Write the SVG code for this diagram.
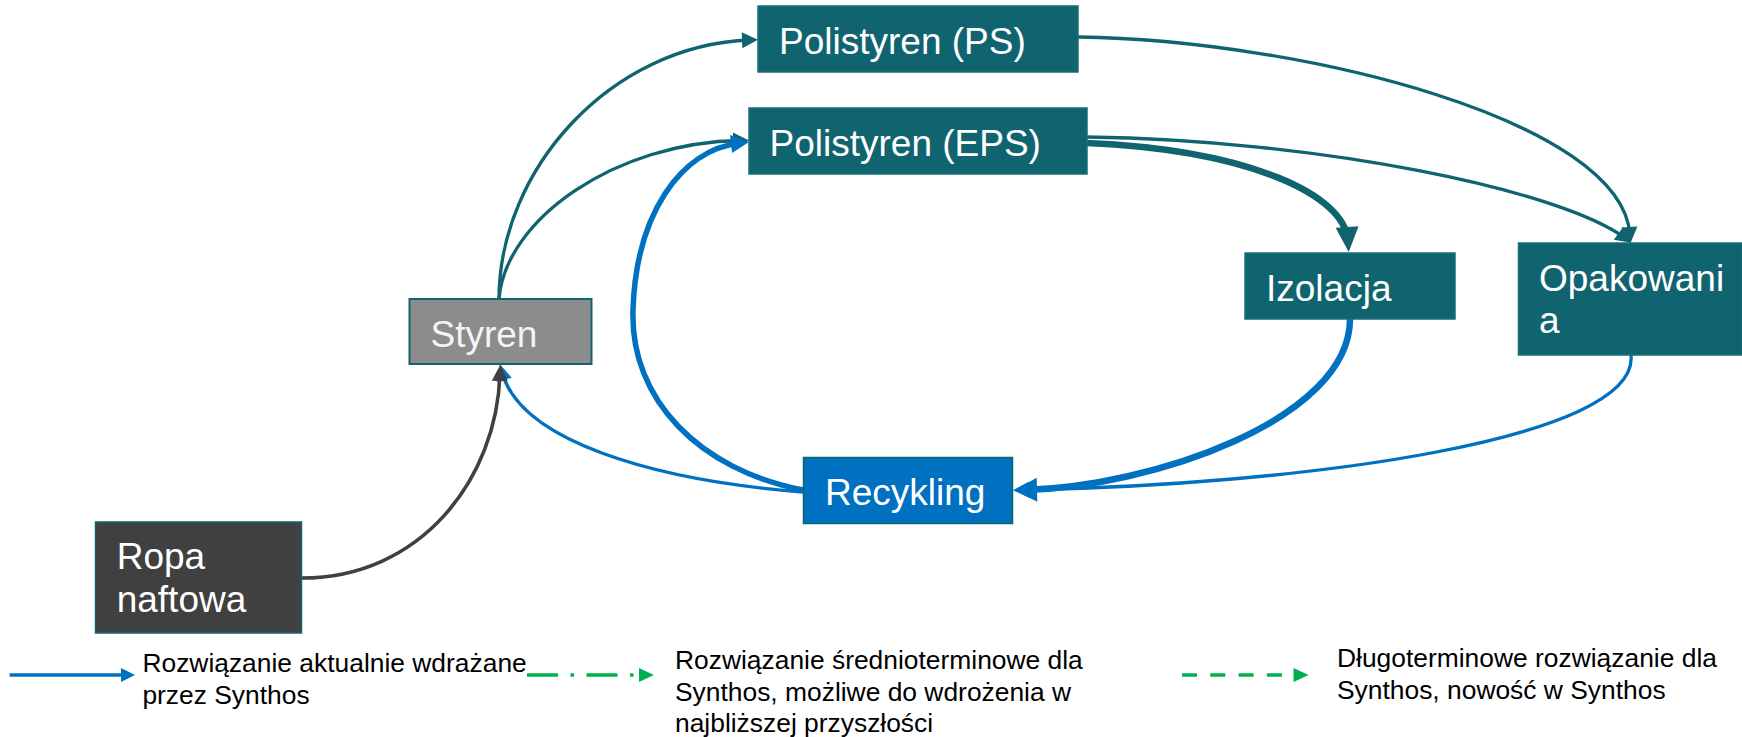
<svg xmlns="http://www.w3.org/2000/svg" width="1742" height="737" viewBox="0 0 1742 737">
<defs>
<style>
.node text{font-family:"Liberation Sans",Arial,sans-serif;font-size:37px;fill:#ffffff}
.teal{fill:#10646f;stroke:#1a6e7a;stroke-width:1.5}
.legend text{font-family:"Liberation Sans",Arial,sans-serif;font-size:26.4px;fill:#000000}
.c{fill:none;stroke-linecap:butt}
.ct{stroke:#10646f;stroke-width:3.3}
.ctT{stroke:#10646f;stroke-width:6.5}
.cb{stroke:#0070c0;stroke-width:3.3}
.cbT{stroke:#0070c0;stroke-width:5.5}
.cbX{stroke:#0070c0;stroke-width:6.5}
.cd{stroke:#404040;stroke-width:3.6}
</style>
<marker id="aTeal" markerUnits="userSpaceOnUse" markerWidth="20" markerHeight="20" refX="8" refY="8" orient="auto" overflow="visible"><path d="M0,0 L16,8 L0,16 z" fill="#10646f"/></marker>
<marker id="aTealBig" markerUnits="userSpaceOnUse" markerWidth="30" markerHeight="30" refX="14" refY="11.5" orient="auto" overflow="visible"><path d="M0,0 L25,11.5 L0,23 z" fill="#10646f"/></marker>
<marker id="aBlue" markerUnits="userSpaceOnUse" markerWidth="20" markerHeight="20" refX="8" refY="8" orient="auto" overflow="visible"><path d="M0,0 L16,8 L0,16 z" fill="#0070c0"/></marker>
<marker id="aBlueMid" markerUnits="userSpaceOnUse" markerWidth="24" markerHeight="24" refX="9" refY="9" orient="auto" overflow="visible"><path d="M0,0 L18,9 L0,18 z" fill="#0070c0"/></marker>
<marker id="aBlueBig" markerUnits="userSpaceOnUse" markerWidth="30" markerHeight="30" refX="13" refY="12" orient="auto" overflow="visible"><path d="M0,0 L23,12 L0,24 z" fill="#0070c0"/></marker>
<marker id="aDark" markerUnits="userSpaceOnUse" markerWidth="20" markerHeight="20" refX="8" refY="8" orient="auto" overflow="visible"><path d="M0,0 L16,8 L0,16 z" fill="#404040"/></marker>
<marker id="aBlueLeg" markerUnits="userSpaceOnUse" markerWidth="20" markerHeight="20" refX="1" refY="7" orient="auto" overflow="visible"><path d="M0,0 L14,7 L0,14 z" fill="#0070c0"/></marker>
</defs>
<rect width="1742" height="737" fill="#ffffff"/>

<g id="connectors">
<path class="c ct" d="M499,299 C499,170 610,45 750,40" marker-end="url(#aTeal)"/>
<path class="c ct" d="M499,299 C505,220 615,142 741,140.5" marker-end="url(#aTeal)"/>
<path class="c ct" d="M1078,37 C1300,40 1622,120 1630,235" marker-end="url(#aTeal)"/>
<path class="c ct" d="M1087,137 C1320,140 1560,190 1625,238" marker-end="url(#aTeal)"/>
<path class="c ctT" d="M1087,143 C1250,150 1345,195 1348,241" marker-end="url(#aTealBig)"/>
<path class="c cb" d="M1631,355 C1640,440 1300,485 1021,490" marker-end="url(#aBlue)"/>
<path class="c cbX" d="M1350,319 C1350,420 1150,487 1024,490" marker-end="url(#aBlueBig)"/>
<path class="c cbT" d="M803,490 C700,470 630,400 633,310 C636,215 680,150 740,143" marker-end="url(#aBlueMid)"/>
<path class="c cb" d="M803,492 C650,480 520,440 502,372" marker-end="url(#aBlue)"/>
<path class="c cd" d="M302,578 C420,578 497,480 500,373" marker-end="url(#aDark)"/>
</g>

<g id="node-ps" class="node">
<rect class="teal" x="758" y="6" width="320" height="66"/>
<text x="779" y="54">Polistyren (PS)</text>
</g>
<g id="node-eps" class="node">
<rect class="teal" x="749" y="108" width="338" height="66"/>
<text x="769.5" y="156">Polistyren (EPS)</text>
</g>
<g id="node-styren" class="node">
<rect x="409.5" y="299" width="182" height="65" fill="#8c8c8c" stroke="#10646f" stroke-width="2"/>
<text x="430.5" y="347" style="fill:#f4f4f4">Styren</text>
</g>
<g id="node-izolacja" class="node">
<rect class="teal" x="1245" y="253" width="210" height="66"/>
<text x="1266" y="301">Izolacja</text>
</g>
<g id="node-opakowania" class="node">
<rect class="teal" x="1518.5" y="243" width="224" height="112"/>
<text x="1539" y="291">Opakowani</text>
<text x="1539" y="333">a</text>
</g>
<g id="node-recykling" class="node">
<rect x="803.5" y="457.5" width="209" height="66" fill="#0070c0" stroke="#10646f" stroke-width="1.5"/>
<text x="825" y="505">Recykling</text>
</g>
<g id="node-ropa" class="node">
<rect x="95.5" y="522" width="206" height="111" fill="#404040" stroke="#10646f" stroke-width="1.5"/>
<text x="116.7" y="569">Ropa</text>
<text x="116.7" y="612">naftowa</text>
</g>

<g id="legend" class="legend">
<line x1="9.6" y1="675" x2="122" y2="675" stroke="#0070c0" stroke-width="3.5" marker-end="url(#aBlueLeg)"/>
<text x="142.4" y="671.5">Rozwiązanie aktualnie wdrażane</text>
<text x="142.4" y="703.5">przez Synthos</text>
<line x1="527" y1="675" x2="639" y2="675" stroke="#00b050" stroke-width="3.3" stroke-dasharray="31 12.5 3.5 12.5"/>
<path d="M639,668 L654,675 L639,682 z" fill="#00b050"/>
<text x="675" y="668.5">Rozwiązanie średnioterminowe dla</text>
<text x="675" y="700.5">Synthos, możliwe do wdrożenia w</text>
<text x="675" y="732">najbliższej przyszłości</text>
<line x1="1182" y1="675" x2="1282" y2="675" stroke="#00b050" stroke-width="3.3" stroke-dasharray="15 13.3"/>
<path d="M1293.5,668 L1308.6,675 L1293.5,682 z" fill="#00b050"/>
<text x="1337" y="666.7">Długoterminowe rozwiązanie dla</text>
<text x="1337" y="699.3">Synthos, nowość w Synthos</text>
</g>
</svg>
